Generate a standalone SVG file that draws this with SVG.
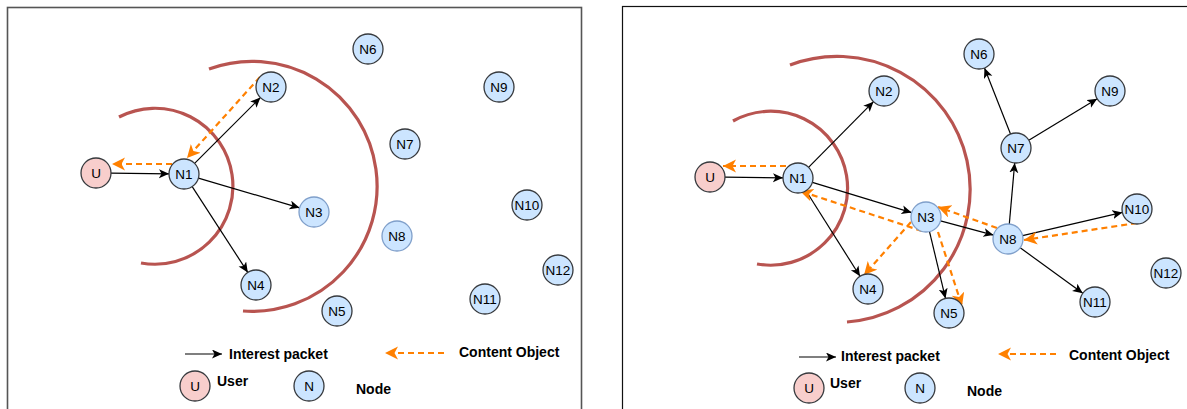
<svg xmlns="http://www.w3.org/2000/svg" width="1187" height="409" viewBox="0 0 1187 409">
<style>
.panelL{fill:none;stroke:#555;stroke-width:1.6}
.panelR{fill:none;stroke:#111;stroke-width:1.2}
.arc{fill:none;stroke:#b85450;stroke-width:3.2}
.n circle{fill:#cce5ff;stroke:#36393d;stroke-width:1.3}
.n.lt circle{stroke:#7f9fca}
.u circle{fill:#f8cecc;stroke:#36393d;stroke-width:1.3}
.n text,.u text{font-family:"Liberation Sans",Arial,sans-serif;font-size:13.5px;text-anchor:middle;fill:#000}
.ip{stroke:#000;stroke-width:1.2;fill:none;marker-end:url(#ab)}
.co{stroke:#ff8000;stroke-width:2.2;fill:none;stroke-dasharray:6 4;marker-end:url(#ao)}
.lbl{font-family:"Liberation Sans",Arial,sans-serif;font-size:14px;font-weight:bold;fill:#000}
</style>
<defs>
<marker id="ab" markerUnits="userSpaceOnUse" markerWidth="12" markerHeight="10" refX="10" refY="4.5" orient="auto">
<path d="M0,0 L10,4.5 L0,9 L2.5,4.5 Z" fill="#000"/>
</marker>
<marker id="ao" markerUnits="userSpaceOnUse" markerWidth="16" markerHeight="14" refX="13" refY="6.5" orient="auto">
<path d="M0,0 L13,6.5 L0,13 L3.5,6.5 Z" fill="#ff8000"/>
</marker>
</defs>
<rect class="panelL" x="7.5" y="7.5" width="574" height="430"/>
<rect class="panelR" x="622.5" y="6.5" width="600" height="430"/>
<g id="arcs">
<path class="arc" d="M119,117 A78,78 0 1 1 141,263"/>
<path class="arc" d="M209,69 A125,125 0 1 1 243,311"/>
<path class="arc" d="M733,121 A77,77 0 1 1 757,264"/>
<path class="arc" d="M790,65 A133,133 0 1 1 847,322"/>
</g>
<g id="connectors">
<line class="ip" x1="111" y1="173.2" x2="169" y2="173.8"/>
<line class="ip" x1="194.6" y1="163.4" x2="260.4" y2="97.6"/>
<line class="ip" x1="198.4" y1="178.2" x2="299.6" y2="207.8"/>
<line class="ip" x1="192.2" y1="186.6" x2="247.8" y2="272.4"/>
<line class="co" x1="260" y1="77" x2="187" y2="158"/>
<line class="co" x1="172" y1="164" x2="112" y2="164"/>
<line class="ip" x1="725" y1="177.2" x2="783" y2="177.8"/>
<line class="ip" x1="808.5" y1="167.3" x2="873.5" y2="101.7"/>
<line class="ip" x1="812.4" y1="182.4" x2="911.6" y2="212.6"/>
<line class="ip" x1="806" y1="190.7" x2="860" y2="276.3"/>
<line class="ip" x1="940.5" y1="220.9" x2="993.5" y2="235.1"/>
<line class="ip" x1="929.5" y1="231.6" x2="945.5" y2="298.4"/>
<line class="ip" x1="1009.3" y1="224.1" x2="1014.7" y2="162.9"/>
<line class="ip" x1="1010.5" y1="134" x2="984.5" y2="68"/>
<line class="ip" x1="1028.8" y1="140.2" x2="1097.2" y2="98.8"/>
<line class="ip" x1="1022.6" y1="235.6" x2="1122.4" y2="212.4"/>
<line class="ip" x1="1020.2" y1="247.8" x2="1082.8" y2="293.2"/>
<line class="co" x1="786" y1="166" x2="723" y2="166"/>
<line class="co" x1="922" y1="231" x2="800" y2="191"/>
<line class="co" x1="911" y1="222" x2="864" y2="275"/>
<line class="co" x1="938" y1="232" x2="962" y2="306"/>
<line class="co" x1="997" y1="228" x2="938" y2="207"/>
<line class="co" x1="1137" y1="223" x2="1024" y2="240"/>
<line class="ip" x1="185" y1="354" x2="222" y2="354"/>
<line class="co" x1="444" y1="353" x2="385" y2="353"/>
<line class="ip" x1="799" y1="357" x2="836" y2="357"/>
<line class="co" x1="1056" y1="354" x2="998" y2="354"/>
</g>
<g id="L_U" class="u"><circle cx="96" cy="173" r="15"/><text x="96" y="177.8">U</text></g>
<g id="L_N1" class="n"><circle cx="184" cy="174" r="15"/><text x="184" y="178.8">N1</text></g>
<g id="L_N2" class="n"><circle cx="271" cy="87" r="15"/><text x="271" y="91.8">N2</text></g>
<g id="L_N3" class="n lt"><circle cx="314" cy="212" r="15"/><text x="314" y="216.8">N3</text></g>
<g id="L_N4" class="n"><circle cx="256" cy="285" r="15"/><text x="256" y="289.8">N4</text></g>
<g id="L_N5" class="n"><circle cx="337" cy="311" r="15"/><text x="337" y="315.8">N5</text></g>
<g id="L_N6" class="n"><circle cx="368" cy="49" r="15"/><text x="368" y="53.8">N6</text></g>
<g id="L_N7" class="n"><circle cx="405" cy="144" r="15"/><text x="405" y="148.8">N7</text></g>
<g id="L_N8" class="n lt"><circle cx="397" cy="236" r="15"/><text x="397" y="240.8">N8</text></g>
<g id="L_N9" class="n"><circle cx="499" cy="87" r="15"/><text x="499" y="91.8">N9</text></g>
<g id="L_N10" class="n"><circle cx="527" cy="205" r="15"/><text x="527" y="209.8">N10</text></g>
<g id="L_N11" class="n"><circle cx="485" cy="299" r="15"/><text x="485" y="303.8">N11</text></g>
<g id="L_N12" class="n"><circle cx="558" cy="270" r="15"/><text x="558" y="274.8">N12</text></g>
<g id="L_legend">
<text class="lbl" x="229" y="359">Interest packet</text>
<text class="lbl" x="459" y="357">Content Object</text>
<g class="u"><circle cx="195" cy="386" r="15"/><text x="195" y="390.8">U</text></g>
<text class="lbl" x="217" y="386">User</text>
<g class="n"><circle cx="309" cy="386" r="15"/><text x="309" y="390.8">N</text></g>
<text class="lbl" x="356" y="394">Node</text>
</g>
<g id="R_U" class="u"><circle cx="710" cy="177" r="15"/><text x="710" y="181.8">U</text></g>
<g id="R_N1" class="n"><circle cx="798" cy="178" r="15"/><text x="798" y="182.8">N1</text></g>
<g id="R_N2" class="n"><circle cx="884" cy="91" r="15"/><text x="884" y="95.8">N2</text></g>
<g id="R_N3" class="n lt"><circle cx="926" cy="217" r="15"/><text x="926" y="221.8">N3</text></g>
<g id="R_N4" class="n"><circle cx="868" cy="289" r="15"/><text x="868" y="293.8">N4</text></g>
<g id="R_N5" class="n"><circle cx="949" cy="313" r="15"/><text x="949" y="317.8">N5</text></g>
<g id="R_N6" class="n"><circle cx="979" cy="54" r="15"/><text x="979" y="58.8">N6</text></g>
<g id="R_N7" class="n"><circle cx="1016" cy="148" r="15"/><text x="1016" y="152.8">N7</text></g>
<g id="R_N8" class="n lt"><circle cx="1008" cy="239" r="15"/><text x="1008" y="243.8">N8</text></g>
<g id="R_N9" class="n"><circle cx="1110" cy="91" r="15"/><text x="1110" y="95.8">N9</text></g>
<g id="R_N10" class="n"><circle cx="1137" cy="209" r="15"/><text x="1137" y="213.8">N10</text></g>
<g id="R_N11" class="n"><circle cx="1095" cy="302" r="15"/><text x="1095" y="306.8">N11</text></g>
<g id="R_N12" class="n"><circle cx="1166" cy="273" r="15"/><text x="1166" y="277.8">N12</text></g>
<g id="R_legend">
<text class="lbl" x="841" y="361">Interest packet</text>
<text class="lbl" x="1069" y="360">Content Object</text>
<g class="u"><circle cx="809" cy="388" r="15"/><text x="809" y="392.8">U</text></g>
<text class="lbl" x="830" y="388">User</text>
<g class="n"><circle cx="920" cy="388" r="15"/><text x="920" y="392.8">N</text></g>
<text class="lbl" x="967" y="396">Node</text>
</g>
</svg>
